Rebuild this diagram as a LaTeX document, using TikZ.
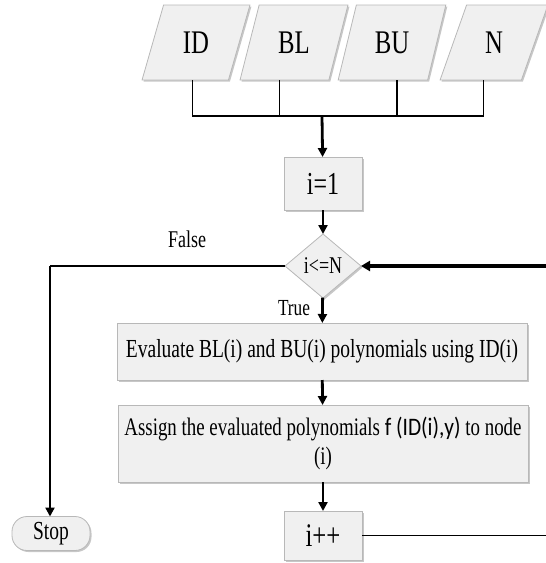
\documentclass[tikz,border=0pt]{standalone}
\usepackage{fontspec}
\setmainfont{Liberation Serif}[FakeStretch=0.75]
\newfontfamily\sansf{Carlito}[FakeStretch=0.85]
\usetikzlibrary{shapes.geometric,shadows,arrows.meta,calc}

\tikzset{
  boxshadow/.style={drop shadow={shadow xshift=1.5pt,shadow yshift=-1.5pt,opacity=0.22,fill=black}},
  boxlook/.style={draw=black!28,line width=0.8pt,fill=black!6,text=black,inner sep=0pt,outer sep=0pt,boxshadow},
  proc/.style={boxlook,rectangle,align=center},
  io/.style={boxlook,trapezium,trapezium left angle=68.2,trapezium right angle=111.8,
             trapezium stretches=true,minimum width=108pt,minimum height=75pt,
             font=\fontsize{33}{36}\selectfont},
  decision/.style={boxlook,diamond,minimum width=76pt,minimum height=64pt,
             font=\fontsize{24}{28}\selectfont},
  term/.style={boxlook,rectangle,rounded corners=15pt,minimum width=78pt,minimum height=34pt,
             font=\fontsize{26}{28}\selectfont},
  label/.style={inner sep=0pt,text=black},
  flow/.style={line width=2.8pt,-{Triangle[length=9pt,width=9pt]}},
  busline/.style={line width=1.3pt},
}

\begin{document}
\begin{tikzpicture}[x=1pt,y=1pt]
\useasboundingbox (0,0) rectangle (546,-563);
\clip (0,0) rectangle (546,-563);

% inputs
\node[io] (id) at (196,-42.5) {ID};
\node[io] (bl) at (294,-42.5) {BL};
\node[io] (bu) at (392,-42.5) {BU};
\node[io] (n)  at (494,-42.5) {N};

% collecting bus
\coordinate (idfoot) at ([xshift=7pt]id.bottom side);
\coordinate (blfoot) at ([xshift=-5pt]bl.bottom side);
\coordinate (bufoot) at ([xshift=14pt]bu.bottom side);
\coordinate (nfoot)  at ([xshift=3pt]n.bottom side);
\coordinate (bus) at (322,-116);
\draw[busline] (idfoot) |- (nfoot |- bus) -- (nfoot);
\draw[busline] (blfoot) -- (blfoot |- bus);
\draw[busline] (bufoot) -- (bufoot |- bus);

% main column
\node[proc,minimum width=78pt,minimum height=53pt,font=\fontsize{32}{36}\selectfont] (init) at (323,-183.5) {i=1};
\node[decision] (test) at (323,-266) {i<=N};
\node[proc,minimum width=410pt,minimum height=57pt,font=\fontsize{26}{30}\selectfont] (eval) at (322,-351.5)
  {Evaluate BL(i) and BU(i) polynomials using ID(i)};
\node[proc,minimum width=410pt,minimum height=77pt,font=\fontsize{25.2}{29}\selectfont] (assign) at (323,-443.5)
  {Assign the evaluated polynomials {\sansf f (ID(i),y)} to node\\(i)};
\node[proc,minimum width=78pt,minimum height=49pt,font=\fontsize{33}{36}\selectfont] (inc) at (323,-535.5) {i++};
\node[term] (stop) at (51,-533.5) {Stop};

\draw[flow] (bus) -- (init);
\draw[flow] (init) -- (test);
\draw[flow] (test) -- (eval);
\draw[flow] (eval) -- (assign);
\draw[flow] (assign) -- (inc);

% false branch
\coordinate (fcorner) at (50,-266);
\draw[line width=1.8pt] (test.west) -- (fcorner);
\draw[flow] (fcorner) -- (stop.north -| fcorner);
\node[label,font=\fontsize{24}{28}\selectfont] (flabel) at (187,-239) {False};
\node[label,font=\fontsize{23}{26}\selectfont] (tlabel) at (294,-308) {True};

% loop back
\coordinate (loopb) at (562,-535.5);
\coordinate (loopt) at (562,-266);
\draw[line width=1.8pt] (inc.east) -- (loopb) -- (loopt);
\draw[line width=3.2pt,-{Triangle[length=9pt,width=10pt]}] (loopt) -- (test.east);
\end{tikzpicture}
\end{document}
